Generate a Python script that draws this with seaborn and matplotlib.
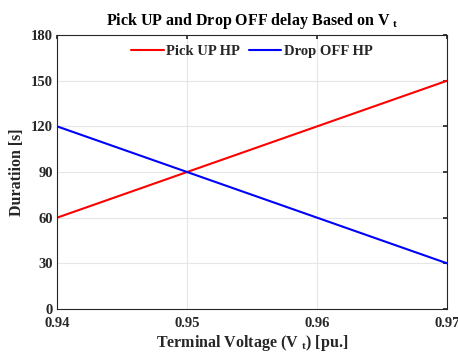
import numpy as np
import pandas as pd
import matplotlib
matplotlib.use("Agg")
import matplotlib.pyplot as plt
import seaborn as sns

# values
voltage = [0.94, 0.95, 0.96, 0.97]
pickup_hp = [60, 90, 120, 150]
dropoff_hp = [120, 90, 60, 30]

df = pd.DataFrame({
    "Vt": voltage * 2,
    "Duration": pickup_hp + dropoff_hp,
    "Series": ["Pick UP HP"] * len(voltage) + ["Drop OFF HP"] * len(voltage),
})

sns.set_theme(style="whitegrid")
plt.rcParams["font.family"] = ["Liberation Serif", "DejaVu Serif"]
plt.rcParams["font.weight"] = "bold"
plt.rcParams["mathtext.fontset"] = "custom"
plt.rcParams["mathtext.rm"] = "Liberation Serif:bold"
plt.rcParams["mathtext.it"] = "Liberation Serif:bold"

fig = plt.figure(figsize=(4.58, 3.52), dpi=100)
ax = fig.add_axes([0.1245, 0.122, 0.852, 0.7786])

sns.lineplot(data=df, x="Vt", y="Duration", hue="Series",
             palette={"Pick UP HP": "#ff0000", "Drop OFF HP": "#0000ff"},
             linewidth=1.5, ax=ax)

ax.set_xlim(0.94, 0.97)
ax.set_ylim(0, 180)
ax.set_xticks(voltage)
ax.set_xticklabels(["0.94", "0.95", "0.96", "0.97"])
ax.set_yticks(np.arange(0, 181, 30))
ax.tick_params(direction="in", length=3, labelsize=10.5, colors="#262626",
               top=True, right=True)
ax.tick_params(axis="x", pad=6)
ax.tick_params(axis="y", pad=3)
for lab in ax.get_xticklabels() + ax.get_yticklabels():
    lab.set_fontweight("bold")
ax.grid(True, color="#e6e6e6", linewidth=0.8)
for s in ax.spines.values():
    s.set_color("#262626")
    s.set_linewidth(0.8)
ax.set_facecolor("white")

ax.set_xlabel("Terminal Voltage (V $_{\\rm t}$) [pu.]", fontsize=11.5,
              fontweight="bold", color="#262626", labelpad=2)
ax.set_ylabel("Duratiion [s]", fontsize=11.5, fontweight="bold",
              color="#262626", labelpad=4)
ax.set_title("Pick UP and Drop OFF delay Based on V $_{\\rm t}$", fontsize=11.5,
             fontweight="bold", color="black", pad=7)

leg = ax.legend(loc="upper center", ncol=2, frameon=False, fontsize=10.5,
                handlelength=2.2, handletextpad=0.2, columnspacing=0.6,
                borderaxespad=0.3)
for t in leg.get_texts():
    t.set_fontweight("bold")

fig.savefig("out.png", dpi=100)
